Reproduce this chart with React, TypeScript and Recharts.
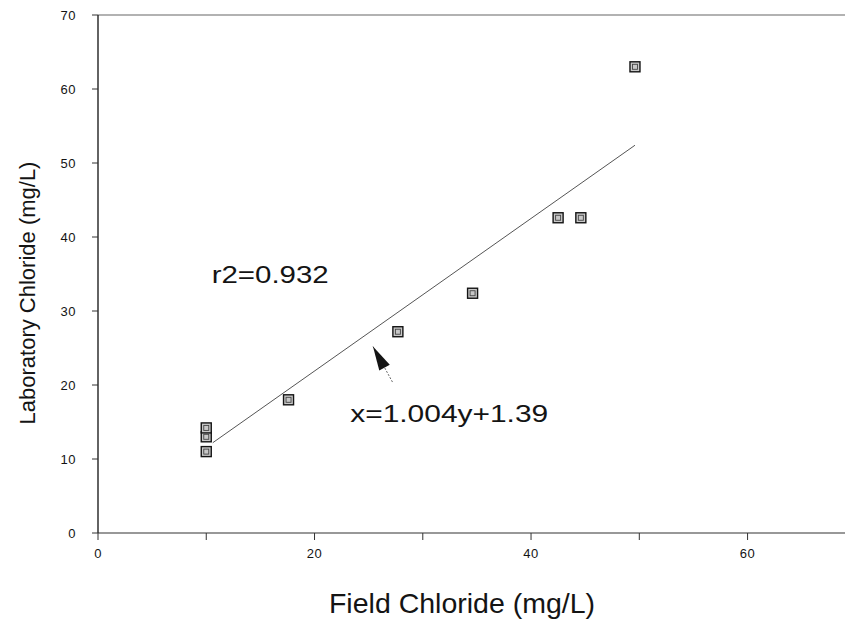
import React from 'react';
import { ScatterChart, Scatter, XAxis, YAxis, ReferenceLine } from 'recharts';

// ---- data ----
const fieldChloride = [10, 10, 10, 17.6, 27.7, 34.6, 42.5, 44.6, 49.6];
const labChloride = [11, 13, 14.2, 18, 27.2, 32.4, 42.6, 42.6, 63];
const fitLineX = [10.6, 49.6];
const fitLineY = [12.2, 52.4];
const arrowX = [27.2, 25.4]; // tail, tip
const arrowY = [20.4, 25.2];
const xTicks = [0, 10, 20, 30, 40, 50, 60];
const xTickLabels = [0, 20, 40, 60];
const yTicks = [0, 10, 20, 30, 40, 50, 60, 70];
const annotationText = ['r2=0.932', 'x=1.004y+1.39'];
const annotationX = [10.5, 23.3];
const annotationY = [33.8, 15.0];
const xTitle = 'Field Chloride (mg/L)';
const yTitle = 'Laboratory Chloride (mg/L)';

const points = fieldChloride.map((x, i) => ({ x, y: labChloride[i] }));
const fitLine = fitLineX.map((x, i) => ({ x, y: fitLineY[i] }));
const arrowPts = arrowX.map((x, i) => ({ x, y: arrowY[i], tip: i === 1 }));
const annotations = annotationText.map((text, i) => ({ x: annotationX[i], y: annotationY[i], text }));

// ---- layout ----
const W = 845;
const H = 623;
const LEFT = 98;
const TOP = 15;
const BOTTOM_AXIS_Y = 533;
const X_MAX = 69.0;
const Y_MAX = 70;
const PX_X = (W - LEFT) / X_MAX;
const PX_Y = (BOTTOM_AXIS_Y - TOP) / Y_MAX;
const FONT = '"Liberation Sans", Arial, Helvetica, sans-serif';
const INK = '#141414';

const SquareMarker = (props: any) => {
  const { cx, cy } = props;
  if (cx == null || cy == null) return <g />;
  return (
    <g>
      <rect x={cx - 5} y={cy - 5} width={10} height={10} fill="#c8c8c8" stroke={INK} strokeWidth={1.4} />
      <rect x={cx - 2.5} y={cy - 2.5} width={5} height={5} fill="none" stroke="#444" strokeWidth={0.9} />
    </g>
  );
};

const ArrowShape = (props: any) => {
  const { cx, cy, payload } = props;
  if (!payload || !payload.tip) return <g />;
  const dx = (arrowX[1] - arrowX[0]) * PX_X;
  const dy = -(arrowY[1] - arrowY[0]) * PX_Y;
  const ang = (Math.atan2(dy, dx) * 180) / Math.PI;
  return (
    <polygon
      points={`0,0 -24,-6 -24,6`}
      transform={`translate(${cx},${cy}) rotate(${ang})`}
      fill={INK}
    />
  );
};

const TextShape = (props: any) => {
  const { cx, cy, payload } = props;
  if (!payload) return <g />;
  const isEq = payload.text.startsWith('x');
  return (
    <text
      x={cx}
      y={cy}
      fontFamily={FONT}
      fontSize={24}
      fill={INK}
      textLength={isEq ? 198 : 117}
      lengthAdjust="spacingAndGlyphs"
    >
      {payload.text}
    </text>
  );
};

const XTick = (props: any) => {
  const { x, y, payload } = props;
  if (!xTickLabels.includes(payload.value)) return <g />;
  return (
    <text x={x} y={y} dy={12} textAnchor="middle" fontFamily={FONT} fontSize={13} fill={INK} letterSpacing={0.5}>
      {payload.value}
    </text>
  );
};

const YTick = (props: any) => {
  const { x, y, payload } = props;
  return (
    <text x={x} y={y} dy={5} textAnchor="end" fontFamily={FONT} fontSize={13} fill={INK} letterSpacing={0.5}>
      {payload.value}
    </text>
  );
};

const XTitle = (props: any) => {
  const vb = props.viewBox || {};
  return (
    <text x={462} y={(vb.y ?? BOTTOM_AXIS_Y) + 80} textAnchor="middle" fontFamily={FONT} fontSize={28.5} fill={INK}>
      {xTitle}
    </text>
  );
};

const YTitle = () => {
  return (
    <text
      x={0}
      y={0}
      transform={`translate(35,293) rotate(-90)`}
      textAnchor="middle"
      fontFamily={FONT}
      fontSize={22}
      fill={INK}
    >
      {yTitle}
    </text>
  );
};

export default function App() {
  return (
    <div style={{ position: 'absolute', left: 0, top: 0, width: W, height: H, background: '#fff' }}>
      <ScatterChart width={W} height={H} margin={{ top: TOP, right: 0, left: 0, bottom: 30 }}>
        <XAxis
          type="number"
          dataKey="x"
          domain={[0, X_MAX]}
          ticks={xTicks}
          interval={0}
          allowDataOverflow
          height={60}
          tickSize={7}
          tickMargin={6}
          stroke={INK}
          axisLine={{ stroke: '#333', strokeWidth: 1.2 }}
          tickLine={{ stroke: '#333' }}
          tick={<XTick />}
          label={<XTitle />}
        />
        <YAxis
          type="number"
          dataKey="y"
          domain={[0, Y_MAX]}
          ticks={yTicks}
          interval={0}
          allowDataOverflow
          width={LEFT}
          tickSize={6}
          tickMargin={16}
          axisLine={{ stroke: '#222', strokeWidth: 1.4 }}
          tickLine={{ stroke: '#333' }}
          tick={<YTick />}
          label={<YTitle />}
        />
        <ReferenceLine y={Y_MAX} stroke="#666" strokeWidth={1.2} ifOverflow="visible" />
        <Scatter
          data={fitLine}
          line={{ stroke: '#555', strokeWidth: 1 }}
          shape={() => <g />}
          isAnimationActive={false}
        />
        <Scatter
          data={arrowPts}
          line={{ stroke: '#666', strokeWidth: 1, strokeDasharray: '2 1.5' }}
          shape={<ArrowShape />}
          isAnimationActive={false}
        />
        <Scatter data={points} shape={<SquareMarker />} isAnimationActive={false} />
        <Scatter data={annotations} shape={<TextShape />} isAnimationActive={false} />
      </ScatterChart>
    </div>
  );
}
